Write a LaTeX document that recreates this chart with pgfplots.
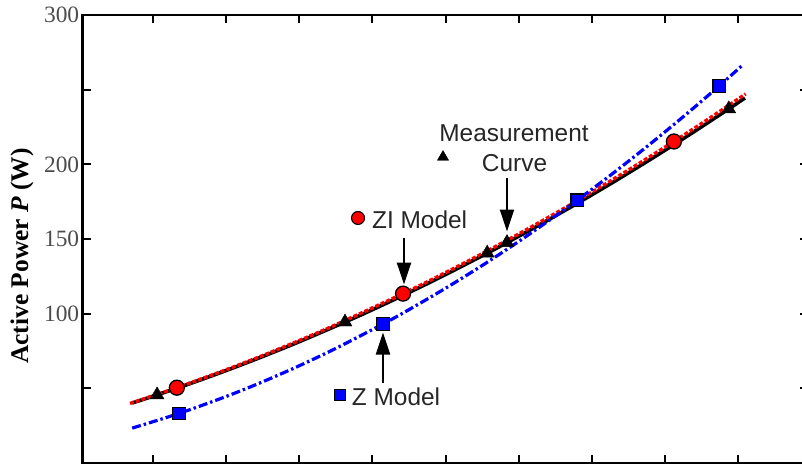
\documentclass[border=0pt]{standalone}
\usepackage{fontspec}
\setmainfont{Liberation Serif}
\newfontfamily\arial{Liberation Sans}
\usepackage{pgfplots}
\pgfplotsset{compat=1.18}
\usetikzlibrary{arrows.meta}

\begin{document}
\begin{tikzpicture}
\begin{axis}[
  scale only axis, width=725.1bp, height=448bp,
  xmin=0.044, xmax=9.95, ymin=0, ymax=300,
  xtick={1,...,9}, xticklabels={},
  ytick={50,100,...,300}, yticklabels={,100,150,200,,300},
  major tick length=8bp,
  tick style={line width=2bp, black},
  axis line style={line width=2.5bp},
  tick label style={font=\fontsize{23.5}{23.5}\selectfont, text=black!70},
  /pgf/number format/assume math mode=true,
  ylabel={Active Power \textit{P} (W)},
  ylabel style={font=\fontsize{25.5}{25.5}\selectfont\bfseries,
    at={(axis description cs:-0.0837,0.462)}, anchor=center},
  clip=false,
]
% measurement curve
\addplot[black, line width=3.6bp, smooth] coordinates {
  (0.72,40.22) (1.06,45.64) (1.5,53.01) (2,61.89) (2.5,71.29) (3,81.22)
  (3.627,94.42) (4,102.65) (4.5,114.16) (5,126.2) (5.57,140.56) (5.84,147.61)
  (6.3,159.96) (6.8,173.9) (7.3,188.36) (7.8,203.35) (8.3,218.86) (8.87,237.19)
  (9.09,244.45)};
% ZI model
\addplot[red, line width=3.4bp, smooth, dash pattern=on 4bp off 2bp] coordinates {
  (0.69,39.9) (1.33,50.46) (2,62.41) (2.5,71.94) (3,82.0) (3.5,92.58)
  (4.42,113.44) (5,127.5) (5.5,140.19) (6,153.41) (6.5,167.16) (7,181.44)
  (7.5,196.24) (8.12,215.32) (8.6,230.66) (9.1,247.15)};
% Z model
\addplot[blue, line width=3.2bp, smooth, dash pattern=on 9bp off 3bp on 2.5bp off 3bp] coordinates {
  (0.72,23.4) (1.36,33.22) (2,44.51) (2.5,54.35) (3,65.09) (3.5,76.73)
  (4.146,93.09) (4.5,102.69) (5,117.02) (5.5,132.24) (6,148.35) (6.5,165.37)
  (6.797,175.9) (7.3,194.46) (7.8,213.81) (8.3,234.04) (8.737,252.46) (9.06,266.52)};
% markers
\addplot[only marks, mark=triangle*, mark size=8bp, mark options={fill=black, draw=black}]
  coordinates {(1.06,45.64) (3.627,94.42) (5.57,140.56) (5.84,147.61) (8.87,237.19)};
\addplot[only marks, mark=*, mark size=7.5bp, mark options={fill=red, draw=black, line width=1.3bp}]
  coordinates {(1.33,50.46) (4.42,113.44) (8.12,215.32)};
\addplot[only marks, mark=square*, mark size=6.2bp, mark options={fill=blue, draw=black, line width=1.3bp}]
  coordinates {(1.36,33.22) (4.146,93.09) (6.797,175.9) (8.737,252.46)};
% legend symbols
\addplot[only marks, mark=triangle*, mark size=6.5bp, mark options={fill=black, draw=black}]
  coordinates {(4.966,204.9)};
\addplot[only marks, mark=*, mark size=6.5bp, mark options={fill=red, draw=black, line width=1.1bp}]
  coordinates {(3.805,164.1)};
\addplot[only marks, mark=square*, mark size=5.5bp, mark options={fill=blue, draw=black, line width=1.1bp}]
  coordinates {(3.559,45.5)};
% annotations
\node[font=\arial\fontsize{24.5}{24.5}\selectfont, text=black!85] at (axis cs:5.936,221.0) {Measurement};
\node[font=\arial\fontsize{24.5}{24.5}\selectfont, text=black!85] at (axis cs:5.943,200.9) {Curve};
\node[font=\arial\fontsize{24.5}{24.5}\selectfont, text=black!85, anchor=west, inner sep=0pt] at (axis cs:3.995,162.7) {ZI Model};
\node[font=\arial\fontsize{24.5}{24.5}\selectfont, text=black!85, anchor=west, inner sep=0pt] at (axis cs:3.719,44.2) {Z Model};
\draw[line width=2.2bp, -{Triangle[length=22bp,width=14bp]}] (axis cs:5.84,190.8) -- (axis cs:5.84,155.0);
\draw[line width=2.2bp, -{Triangle[length=22bp,width=14bp]}] (axis cs:4.433,150.7) -- (axis cs:4.433,119.5);
\draw[line width=2.2bp, -{Triangle[length=22bp,width=14bp]}] (axis cs:4.146,53.6) -- (axis cs:4.146,87.4);
\coordinate (bbSW) at (axis cs:-1.0858,-2.009);
\coordinate (bbNE) at (axis cs:9.870,310.05);
\end{axis}
\pgfresetboundingbox
\useasboundingbox (bbSW) rectangle (bbNE);
\end{tikzpicture}
\end{document}
